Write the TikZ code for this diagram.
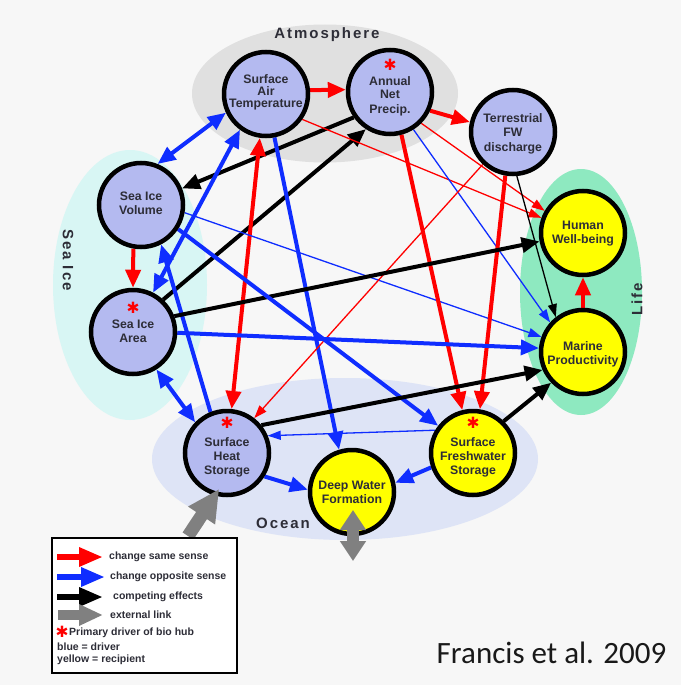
\documentclass[tikz,border=0pt]{standalone}
\usepackage{fontspec}
\setmainfont{Liberation Sans}
\newfontfamily\citefont{Carlito}
\newfontfamily\starfont{DejaVu Sans}
\newfontfamily\spacedfont[LetterSpace=13]{Liberation Sans}
\usetikzlibrary{arrows.meta}
\definecolor{bgc}{RGB}{247,247,247}
\definecolor{atmc}{RGB}{224,224,224}
\definecolor{icec}{RGB}{216,246,244}
\definecolor{lifec}{RGB}{142,233,192}
\definecolor{ocnc}{RGB}{222,228,246}
\definecolor{drvc}{RGB}{180,186,240}
\definecolor{rcpc}{RGB}{255,255,0}
\definecolor{cred}{RGB}{255,0,0}
\definecolor{cblue}{RGB}{15,45,255}
\definecolor{cgray}{RGB}{128,128,128}
\definecolor{txtc}{RGB}{45,45,55}
\pgfdeclarelayer{bg}
\pgfdeclarelayer{edges}
\pgfsetlayers{bg,edges,main}
\begin{document}
\begin{tikzpicture}[x=1pt,y=-1pt,
  hub/.style={circle, draw=black, line width=4.5pt, minimum size=84pt, inner sep=0pt,
    align=center, text=txtc, text depth=3pt, font=\bfseries\fontsize{12.3}{14}\selectfont},
  drv/.style={hub, fill=drvc},
  rcp/.style={hub, fill=rcpc},
  starmk/.style={anchor=center, inner sep=0pt, text=cred, font=\starfont\bfseries\fontsize{15.5}{15.5}\selectfont},
  grp/.style={inner sep=0pt, text=txtc, font=\spacedfont\bfseries\fontsize{15}{15}\selectfont},
  legtxt/.style={anchor=west, inner sep=0pt, text=txtc, font=\bfseries\fontsize{10.5}{12}\selectfont},
  redA/.style={draw=cred, line width=4pt, arrows={-Triangle[length=18pt,width=15pt]}},
  redAA/.style={draw=cred, line width=4pt, arrows={Triangle[length=18pt,width=15pt]-Triangle[length=18pt,width=15pt]}},
  blueA/.style={draw=cblue, line width=4pt, arrows={-Triangle[length=18pt,width=15pt]}},
  blueAA/.style={draw=cblue, line width=4pt, arrows={Triangle[length=18pt,width=15pt]-Triangle[length=18pt,width=15pt]}},
  blackA/.style={draw=black, line width=4pt, arrows={-Triangle[length=18pt,width=15pt]}},
  redT/.style={draw=cred, line width=1.3pt, arrows={-Triangle[length=13pt,width=9pt]}},
  blueT/.style={draw=cblue, line width=1.3pt, arrows={-Triangle[length=13pt,width=9pt]}},
  blackT/.style={draw=black, line width=1.3pt, arrows={-Triangle[length=13pt,width=9pt]}},
  grayA/.style={draw=cgray, line width=13pt, arrows={-Triangle[length=32pt,width=30pt]}},
  grayAA/.style={draw=cgray, line width=12pt, arrows={Triangle[length=20pt,width=25pt]-Triangle[length=20pt,width=25pt]}},
  legA/.style={line width=6pt, arrows={-Triangle[length=24pt,width=18pt]}},
  legG/.style={draw=cgray, line width=10pt, arrows={-Triangle[length=24pt,width=20pt]}}
]
\useasboundingbox (0,0) rectangle (681,685);
\begin{pgfonlayer}{bg}
\fill[bgc] (0,0) rectangle (681,685);
\fill[atmc] (325,93.5) ellipse [x radius=133, y radius=69];
\fill[icec] (130,285) ellipse [x radius=77, y radius=135];
\fill[lifec] (581,292) ellipse [x radius=61, y radius=123];
\fill[ocnc] (345,459) ellipse [x radius=193, y radius=81];
\end{pgfonlayer}

\node[grp] (atmlbl) at (327,35) {Atmosphere};
\node[grp] (ocnlbl) at (283,523) {Ocean};
\node[grp, rotate=-90] (icelbl) at (68,260) {Sea Ice};
\node[grp, rotate=90] (lifelbl) at (637,299) {Life};

\node[drv, font=\bfseries\fontsize{12.3}{12}\selectfont, text height=29pt] (sat) at (266,94) {Surface\\Air\\Temperature};
\node[drv, text height=45pt] (anp) at (390,92) {Annual\\Net\\Precip.};
\node[drv, font=\bfseries\fontsize{12.3}{14.5}\selectfont, text height=41pt] (tfw) at (513,132) {Terrestrial\\FW\\discharge};
\node[drv, text height=21pt] (siv) at (141,205) {Sea Ice\\Volume};
\node[drv, text height=23pt] (sia) at (133,332) {Sea Ice\\Area};
\node[rcp, text height=23pt] (hwb) at (583,233) {Human\\Well-being};
\node[rcp, text height=27pt] (mp) at (583,352) {Marine\\Productivity};
\node[drv, text height=45pt] (shs) at (227,453) {Surface\\Heat\\Storage};
\node[rcp, text height=25pt] (dwf) at (352,492) {Deep Water\\Formation};
\node[rcp, text height=45pt] (sfs) at (473,453) {Surface\\Freshwater\\Storage};

\node[starmk] (anpstar) at ([yshift=27pt]anp.center) {✱};
\node[starmk] (siastar) at ([yshift=24pt]sia.center) {✱};
\node[starmk] (shsstar) at ([yshift=30pt]shs.center) {✱};
\node[starmk] (sfsstar) at ([yshift=30pt]sfs.center) {✱};

\begin{pgfonlayer}{edges}
\draw[redA] (sat.5) -- (anp.177);
\draw[redA] (anp.-25) -- (tfw.167);
\draw[blueAA] (sat.205) -- (siv.68);
\draw[blackA] (anp.215) -- (siv.22);
\draw[blackA] (sia.47) -- (anp.237);
\draw[blueAA] (sat.234) -- (sia.63);
\draw[blueAA] (sia.-58) -- (shs.136);
\draw[redA] (siv.260) -- (sia.90);
\draw[blueA] (shs.112) -- (siv.-63);
\draw[redAA] (sat.262) -- (shs.84);
\draw[blueA] (sat.-79) -- (dwf.107);
\draw[redT] (sat.-35) -- (hwb.160);
\draw[redT] (anp.-45) -- (hwb.150);
\draw[blueT] (anp.-58) -- (mp.138);
\draw[blueT] (siv.-10) -- (mp.160);
\draw[redT] (tfw.227) -- (shs.52);
\draw[blackT] (tfw.-85) -- (mp.128);
\draw[redA] (tfw.260) -- (sfs.81);
\draw[redA] (anp.-75) -- (sfs.104);
\draw[blackA] (sia.21) -- (hwb.191);
\draw[blueA] (sia.-1) -- (mp.175);
\draw[blueA] (siv.-33) -- (sfs.142);
\draw[blackA] (shs.39) -- (mp.204);
\draw[blackA] (sfs.46) -- (mp.224);
\draw[blueT] (sfs.149) -- (shs.23);
\draw[blueA] (shs.-32) -- (dwf.177);
\draw[blueA] (sfs.199) -- (dwf.12);
\draw[redA] (mp.90) -- (hwb.270);
\end{pgfonlayer}

\coordinate (shsext) at (188,536);
\draw[grayA, shorten >=-8pt] (shsext) -- (shs.254);
\coordinate (dwfin) at (353,510);
\coordinate (dwfout) at (353,561);
\draw[grayAA] (dwfin) -- (dwfout);

% legend
\draw[line width=2.5pt, fill=white] (52,538) rectangle (237,673);
\coordinate (l1a) at (57,557); \coordinate (l1b) at (103,557);
\coordinate (l2a) at (57,577); \coordinate (l2b) at (105,577);
\coordinate (l3a) at (57,597); \coordinate (l3b) at (103,597);
\coordinate (l4a) at (58,615); \coordinate (l4b) at (103,615);
\draw[legA, draw=cred] (l1a) -- (l1b);
\draw[legA, draw=cblue] (l2a) -- (l2b);
\draw[legA, draw=black] (l3a) -- (l3b);
\draw[legG] (l4a) -- (l4b);
\node[legtxt] (t1) at (109,557) {change same sense};
\node[legtxt] (t2) at (110,577) {change opposite sense};
\node[legtxt] (t3) at (113,597) {competing effects};
\node[legtxt] (t4) at (110,615) {external link};
\node[starmk] (legstar) at (62,632) {✱};
\node[legtxt] (t5) at (69,633) {Primary driver of bio hub};
\node[legtxt] (t6) at (57,647) {blue = driver};
\node[legtxt] (t7) at (57,660) {yellow = recipient};

\node[anchor=base, inner sep=0pt, font=\citefont\fontsize{31}{31}\selectfont, text=black!90] (cite) at (551.5,663) {Francis et al. 2009};
\end{tikzpicture}
\end{document}
